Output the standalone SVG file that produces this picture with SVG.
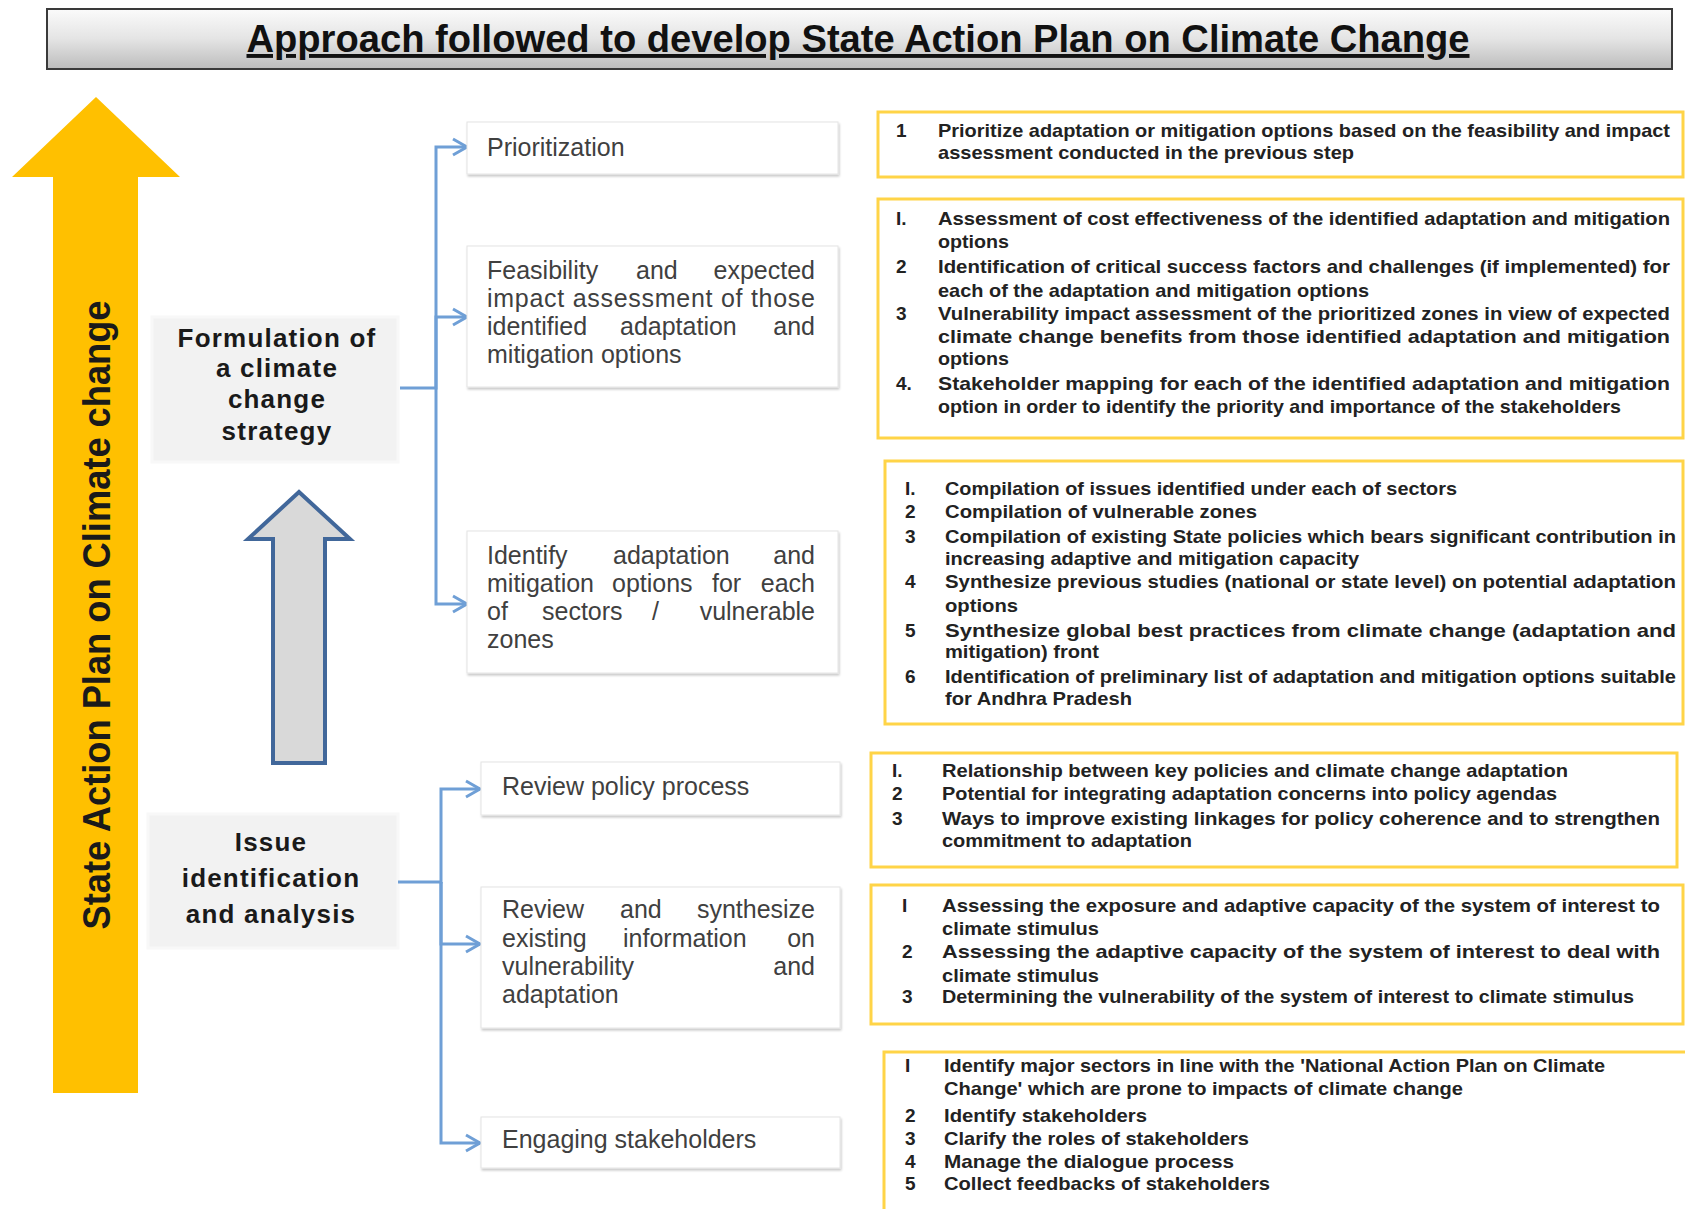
<svg xmlns="http://www.w3.org/2000/svg" width="1685" height="1209" viewBox="0 0 1685 1209">
<defs>
<style>
.ttl{font-family:"Liberation Sans",Arial,sans-serif;font-weight:bold;font-size:39px;fill:#111;}
.vert{font-family:"Liberation Sans",Arial,sans-serif;font-weight:bold;font-size:38px;fill:#1a1a1a;}
.lbl{font-family:"Liberation Sans",Arial,sans-serif;font-weight:bold;font-size:26px;letter-spacing:1.2px;fill:#1a1a1a;text-anchor:middle;}
.mid{font-family:"Liberation Sans",Arial,sans-serif;font-size:25px;fill:#404040;}
.end{text-anchor:end;}
.rt{font-family:"Liberation Sans",Arial,sans-serif;font-weight:bold;font-size:19px;fill:#222;}
.ybox{fill:#fff;stroke:#ffd447;stroke-width:3;}
.mbox{fill:#fff;stroke:#e4e4e4;stroke-width:1;filter:url(#sh);}
.lbox{fill:#f2f2f2;stroke:#f8f8f8;stroke-width:3;}
.conn{fill:none;stroke:#6f9fd6;stroke-width:3;marker-end:url(#chev);}
</style>
<linearGradient id="tg" x1="0" y1="0" x2="0" y2="1">
<stop offset="0" stop-color="#fbfbfb"/>
<stop offset="0.5" stop-color="#e4e4e4"/>
<stop offset="1" stop-color="#bcbcbc"/>
</linearGradient>
<filter id="sh" x="-5%" y="-10%" width="110%" height="130%">
<feDropShadow dx="1" dy="2" stdDeviation="1" flood-color="#000" flood-opacity="0.22"/>
</filter>
<marker id="chev" markerUnits="userSpaceOnUse" markerWidth="18" markerHeight="20" refX="15" refY="10" orient="auto">
<path d="M1,2 L15,10 L1,18" fill="none" stroke="#6f9fd6" stroke-width="3"/>
</marker>
</defs>
<rect width="1685" height="1209" fill="#fff"/>

<g id="title">
<rect x="47" y="9" width="1625" height="60" fill="url(#tg)" stroke="#3a3a3a" stroke-width="2"/>
<text class="ttl" x="858" y="52" text-anchor="middle" textLength="1223" lengthAdjust="spacingAndGlyphs" text-decoration="underline">Approach followed to develop State Action Plan on Climate Change</text>
</g>

<g id="sapcc-arrow">
<polygon points="96,97 180,177 138,177 138,1093 53,1093 53,177 12,177" fill="#ffc000"/>
<text class="vert" transform="translate(110,615) rotate(-90)" text-anchor="middle" textLength="629" lengthAdjust="spacingAndGlyphs">State Action Plan on Climate change</text>
</g>

<g id="progress-arrow">
<polygon points="299,492 350,539 325,539 325,763 273,763 273,539 248,539" fill="#d9d9d9" stroke="#41679a" stroke-width="4" stroke-linejoin="miter"/>
</g>

<g id="formulation">
<rect class="lbox" x="152" y="317" width="246" height="145"/>
<text class="lbl" x="277" y="347">Formulation of</text>
<text class="lbl" x="277" y="377">a climate</text>
<text class="lbl" x="277" y="408">change</text>
<text class="lbl" x="277" y="440">strategy</text>
</g>

<g id="issue">
<rect class="lbox" x="148" y="814" width="250" height="134"/>
<text class="lbl" x="271" y="851">Issue</text>
<text class="lbl" x="271" y="887">identification</text>
<text class="lbl" x="271" y="923">and analysis</text>
</g>

<g id="connectors">
<path class="conn" d="M400,388 H436 V147 H467"/>
<path class="conn" d="M436,388 V317 H467"/>
<path class="conn" d="M436,388 V604 H467"/>
<path class="conn" d="M398,882 H441 V789 H480"/>
<path class="conn" d="M441,882 V944 H480"/>
<path class="conn" d="M441,882 V1143 H480"/>
</g>

<g id="prioritization">
<rect class="mbox" x="467" y="122" width="371" height="52"/>
<text class="mid" x="487" y="156">Prioritization</text>
</g>

<g id="feasibility">
<rect class="mbox" x="467" y="246" width="371" height="141"/>
<text class="mid" x="487" y="279">Feasibility</text>
<text class="mid" x="636" y="279">and</text>
<text class="mid end" x="815" y="279">expected</text>
<text class="mid" x="487" y="307" textLength="328" lengthAdjust="spacing">impact assessment of those</text>
<text class="mid" x="487" y="335">identified</text>
<text class="mid" x="620" y="335">adaptation</text>
<text class="mid end" x="815" y="335">and</text>
<text class="mid" x="487" y="363">mitigation options</text>
</g>

<g id="identify">
<rect class="mbox" x="467" y="531" width="371" height="142"/>
<text class="mid" x="487" y="564">Identify</text>
<text class="mid" x="613" y="564">adaptation</text>
<text class="mid end" x="815" y="564">and</text>
<text class="mid" x="487" y="592">mitigation</text>
<text class="mid" x="612" y="592">options</text>
<text class="mid" x="712" y="592">for</text>
<text class="mid end" x="815" y="592">each</text>
<text class="mid" x="487" y="620">of</text>
<text class="mid" x="542" y="620">sectors</text>
<text class="mid" x="652" y="620">/</text>
<text class="mid end" x="815" y="620">vulnerable</text>
<text class="mid" x="487" y="648">zones</text>
</g>

<g id="review-policy">
<rect class="mbox" x="481" y="762" width="359" height="53"/>
<text class="mid" x="502" y="795">Review policy process</text>
</g>

<g id="review-synthesize">
<rect class="mbox" x="481" y="887" width="359" height="141"/>
<text class="mid" x="502" y="918">Review</text>
<text class="mid" x="620" y="918">and</text>
<text class="mid end" x="815" y="918">synthesize</text>
<text class="mid" x="502" y="947">existing</text>
<text class="mid" x="623" y="947">information</text>
<text class="mid end" x="815" y="947">on</text>
<text class="mid" x="502" y="975">vulnerability</text>
<text class="mid end" x="815" y="975">and</text>
<text class="mid" x="502" y="1003">adaptation</text>
</g>

<g id="engaging">
<rect class="mbox" x="481" y="1117" width="359" height="51"/>
<text class="mid" x="502" y="1148">Engaging stakeholders</text>
</g>

<g id="detail-prioritization">
<rect class="ybox" x="878" y="112" width="805" height="65"/>
<text class="rt" x="896" y="137">1</text>
<text class="rt" x="938" y="137" textLength="732" lengthAdjust="spacingAndGlyphs">Prioritize adaptation or mitigation options based on the feasibility and impact</text>
<text class="rt" x="938" y="159" textLength="416" lengthAdjust="spacingAndGlyphs">assessment conducted in the previous step</text>
</g>

<g id="detail-feasibility">
<rect class="ybox" x="878" y="199" width="805" height="239"/>
<text class="rt" x="896" y="225">I.</text>
<text class="rt" x="938" y="225" textLength="732" lengthAdjust="spacingAndGlyphs">Assessment of cost effectiveness of the identified adaptation and mitigation</text>
<text class="rt" x="938" y="248" textLength="71" lengthAdjust="spacingAndGlyphs">options</text>
<text class="rt" x="896" y="273">2</text>
<text class="rt" x="938" y="273" textLength="732" lengthAdjust="spacingAndGlyphs">Identification of critical success factors and challenges (if implemented) for</text>
<text class="rt" x="938" y="297" textLength="431" lengthAdjust="spacingAndGlyphs">each of the adaptation and mitigation options</text>
<text class="rt" x="896" y="320">3</text>
<text class="rt" x="938" y="320" textLength="732" lengthAdjust="spacingAndGlyphs">Vulnerability impact assessment of the prioritized zones in view of expected</text>
<text class="rt" x="938" y="343" textLength="732" lengthAdjust="spacingAndGlyphs">climate change benefits from those identified adaptation and mitigation</text>
<text class="rt" x="938" y="365" textLength="71" lengthAdjust="spacingAndGlyphs">options</text>
<text class="rt" x="896" y="390">4.</text>
<text class="rt" x="938" y="390" textLength="732" lengthAdjust="spacingAndGlyphs">Stakeholder mapping for each of the identified adaptation and mitigation</text>
<text class="rt" x="938" y="413" textLength="683" lengthAdjust="spacingAndGlyphs">option in order to identify the priority and importance of the stakeholders</text>
</g>

<g id="detail-identify">
<rect class="ybox" x="885" y="461" width="798" height="263"/>
<text class="rt" x="905" y="495">I.</text>
<text class="rt" x="945" y="495" textLength="512" lengthAdjust="spacingAndGlyphs">Compilation of issues identified under each of sectors</text>
<text class="rt" x="905" y="518">2</text>
<text class="rt" x="945" y="518" textLength="312" lengthAdjust="spacingAndGlyphs">Compilation of vulnerable zones</text>
<text class="rt" x="905" y="543">3</text>
<text class="rt" x="945" y="543" textLength="731" lengthAdjust="spacingAndGlyphs">Compilation of existing State policies which bears significant contribution in</text>
<text class="rt" x="945" y="565" textLength="414" lengthAdjust="spacingAndGlyphs">increasing adaptive and mitigation capacity</text>
<text class="rt" x="905" y="588">4</text>
<text class="rt" x="945" y="588" textLength="731" lengthAdjust="spacingAndGlyphs">Synthesize previous studies (national or state level) on potential adaptation</text>
<text class="rt" x="945" y="612" textLength="73" lengthAdjust="spacingAndGlyphs">options</text>
<text class="rt" x="905" y="637">5</text>
<text class="rt" x="945" y="637" textLength="731" lengthAdjust="spacingAndGlyphs">Synthesize global best practices from climate change (adaptation and</text>
<text class="rt" x="945" y="658" textLength="154" lengthAdjust="spacingAndGlyphs">mitigation) front</text>
<text class="rt" x="905" y="683">6</text>
<text class="rt" x="945" y="683" textLength="731" lengthAdjust="spacingAndGlyphs">Identification of preliminary list of adaptation and mitigation options suitable</text>
<text class="rt" x="945" y="705" textLength="187" lengthAdjust="spacingAndGlyphs">for Andhra Pradesh</text>
</g>

<g id="detail-review-policy">
<rect class="ybox" x="871" y="753" width="806" height="114"/>
<text class="rt" x="892" y="777">I.</text>
<text class="rt" x="942" y="777" textLength="626" lengthAdjust="spacingAndGlyphs">Relationship between key policies and climate change adaptation</text>
<text class="rt" x="892" y="800">2</text>
<text class="rt" x="942" y="800" textLength="615" lengthAdjust="spacingAndGlyphs">Potential for integrating adaptation concerns into policy agendas</text>
<text class="rt" x="892" y="825">3</text>
<text class="rt" x="942" y="825" textLength="718" lengthAdjust="spacingAndGlyphs">Ways to improve existing linkages for policy coherence and to strengthen</text>
<text class="rt" x="942" y="847" textLength="250" lengthAdjust="spacingAndGlyphs">commitment to adaptation</text>
</g>

<g id="detail-review-synthesize">
<rect class="ybox" x="871" y="885" width="812" height="139"/>
<text class="rt" x="902" y="912">I</text>
<text class="rt" x="942" y="912" textLength="718" lengthAdjust="spacingAndGlyphs">Assessing the exposure and adaptive capacity of the system of interest to</text>
<text class="rt" x="942" y="935" textLength="157" lengthAdjust="spacingAndGlyphs">climate stimulus</text>
<text class="rt" x="902" y="958">2</text>
<text class="rt" x="942" y="958" textLength="718" lengthAdjust="spacingAndGlyphs">Assessing the adaptive capacity of the system of interest to deal with</text>
<text class="rt" x="942" y="982" textLength="157" lengthAdjust="spacingAndGlyphs">climate stimulus</text>
<text class="rt" x="902" y="1003">3</text>
<text class="rt" x="942" y="1003" textLength="692" lengthAdjust="spacingAndGlyphs">Determining the vulnerability of the system of interest to climate stimulus</text>
</g>

<g id="detail-engaging">
<rect class="ybox" x="884" y="1052" width="810" height="170"/>
<text class="rt" x="905" y="1072">I</text>
<text class="rt" x="944" y="1072" textLength="661" lengthAdjust="spacingAndGlyphs">Identify major sectors in line with the 'National Action Plan on Climate</text>
<text class="rt" x="944" y="1095" textLength="519" lengthAdjust="spacingAndGlyphs">Change' which are prone to impacts of climate change</text>
<text class="rt" x="905" y="1122">2</text>
<text class="rt" x="944" y="1122" textLength="203" lengthAdjust="spacingAndGlyphs">Identify stakeholders</text>
<text class="rt" x="905" y="1145">3</text>
<text class="rt" x="944" y="1145" textLength="305" lengthAdjust="spacingAndGlyphs">Clarify the roles of stakeholders</text>
<text class="rt" x="905" y="1168">4</text>
<text class="rt" x="944" y="1168" textLength="290" lengthAdjust="spacingAndGlyphs">Manage the dialogue process</text>
<text class="rt" x="905" y="1190">5</text>
<text class="rt" x="944" y="1190" textLength="326" lengthAdjust="spacingAndGlyphs">Collect feedbacks of stakeholders</text>
</g>
</svg>
